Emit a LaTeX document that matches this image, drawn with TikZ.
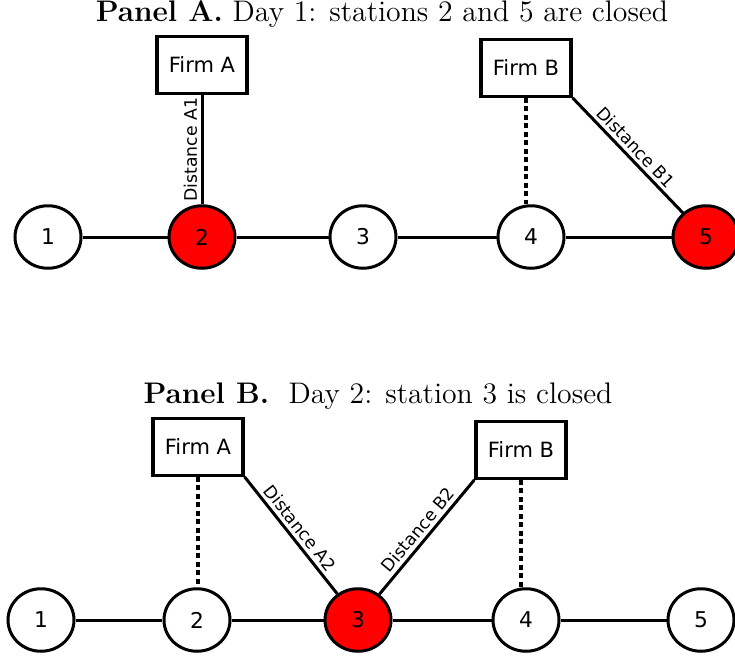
\documentclass[tikz,border=0pt]{standalone}
\usepackage{fontspec}
\usepackage{tikz}
\usetikzlibrary{shapes.geometric}
\newfontfamily\dejavu{DejaVu Sans}
\tikzset{
  station/.style={ellipse,draw,line width=1.2pt,fill=white,minimum width=26.4pt,minimum height=25pt,inner sep=0pt,font=\dejavu\fontsize{8.7}{10}\selectfont},
  closed/.style={station,fill=red},
  firm/.style={rectangle,draw,line width=1.3pt,fill=white,minimum width=36pt,minimum height=22.6pt,inner sep=0pt,font=\dejavu\fontsize{8.4}{10}\selectfont},
  road/.style={line width=1.2pt},
  link/.style={line width=1.3pt,dash pattern=on 2pt off 1.4pt},
  dist/.style={font=\dejavu\fontsize{6.9}{8}\selectfont,inner sep=1.4pt},
  paneltitle/.style={font=\fontsize{11.9}{14}\selectfont,inner sep=0pt}
}
\begin{document}
\begin{tikzpicture}[x=0.4pt,y=-0.4pt]
\useasboundingbox (0,0) rectangle (735,655);
% ---- Panel A: day 1 ----
\node[paneltitle] (titleA) at (382,14) {\textbf{Panel A.} Day 1: stations 2 and 5 are closed};
\foreach \i/\xx in {1/48,3/363,4/531} {\node[station] (a\i) at (\xx,237) {\i};}
\node[closed] (a2) at (202,237) {2};
\node[closed] (a5) at (706,237) {5};
\foreach \i/\j in {1/2,2/3,3/4,4/5} {\draw[road] (a\i) -- (a\j);}
\node[firm] (firmA1) at (202,65) {Firm A};
\node[firm] (firmB1) at (526,68) {Firm B};
\draw[road] (a2) -- node[midway,sloped,above,dist] {Distance A1} (firmA1);
\draw[link] (firmB1.south) -- (firmB1.south |- a4.north);
\draw[road] (firmB1.south east) -- node[midway,sloped,above,dist] {Distance B1} (a5);
% ---- Panel B: day 2 ----
\node[paneltitle] (titleB) at (378,396) {\textbf{Panel B.}\ \ Day 2: station 3 is closed};
\foreach \i/\xx in {1/41,2/197,4/526,5/701} {\node[station] (b\i) at (\xx,620) {\i};}
\node[closed] (b3) at (358,620) {3};
\foreach \i/\j in {1/2,2/3,3/4,4/5} {\draw[road] (b\i) -- (b\j);}
\node[firm] (firmA2) at (198,447) {Firm A};
\node[firm] (firmB2) at (521,450) {Firm B};
\draw[link] (firmA2.south) -- (firmA2.south |- b2.north);
\draw[link] (firmB2.south) -- (firmB2.south |- b4.north);
\draw[road] (firmA2.south east) -- node[midway,sloped,above,dist] {Distance A2} (b3);
\draw[road] (b3) -- node[midway,sloped,above,dist] {Distance B2} (firmB2.south west);
\end{tikzpicture}
\end{document}
